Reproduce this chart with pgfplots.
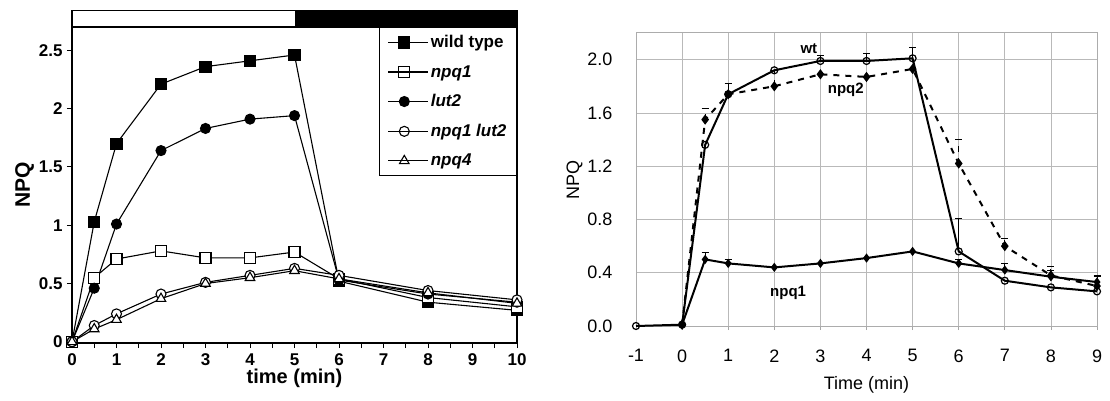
\documentclass[border=0pt]{standalone}
\usepackage{fontspec}
\setmainfont{Liberation Sans}
\usepackage{pgfplots}
\pgfplotsset{compat=1.18}

\begin{document}
\begin{tikzpicture}
% left panel: NPQ of the mutants
\begin{axis}[
  at={(72pt,-343pt)}, anchor=south west,
  scale only axis, width=445pt, height=316pt,
  xmin=0, xmax=10, ymin=-0.01, ymax=2.70,
  xtick={0,1,2,3,4,5,6,7,8,9,10},
  minor xtick={0.5,1.5,2.5,3.5,4.5,5.5,6.5,7.5,8.5,9.5},
  ytick={0,0.5,1,1.5,2,2.5},
  tick align=outside, tick pos=left,
  major tick length=5pt, minor tick length=5pt,
  axis line style={line width=1.2pt},
  every tick/.style={black, line width=1pt},
  /pgf/number format/assume math mode=true,
  tick label style={font=\fontsize{17}{20}\selectfont\bfseries},
  xticklabel style={yshift=-2pt},
  yticklabel style={xshift=-1pt},
  xlabel={time (min)}, ylabel={NPQ},
  label style={font=\fontsize{20}{23}\selectfont\bfseries},
  xlabel style={yshift=3pt},
  ylabel style={font=\fontsize{21}{24}\selectfont\bfseries, yshift=-2pt},
  clip=false,
  legend style={at={(1,1)}, anchor=north east, draw=black, line width=1.2pt,
    font=\fontsize{17}{20}\selectfont\bfseries, row sep=12pt,
    inner xsep=8pt, inner ysep=6pt, cells={anchor=west}},
  legend image code/.code={\draw[mark repeat=2,mark phase=2,#1]
    plot coordinates {(0pt,0pt) (16pt,0pt) (32pt,0pt)};
    \path (0pt,0pt) -- (40pt,0pt);},
  every axis plot/.append style={black, line width=1.1pt},
]
\fill[black] (axis cs:5,2.70) rectangle (axis cs:10,2.84);
\draw[line width=1.2pt] (axis cs:0,2.70) rectangle (axis cs:10,2.84);

\addplot[mark=square*, mark size=5.5pt, mark options={solid}] coordinates {
  (0,0) (0.5,1.03) (1,1.70) (2,2.21) (3,2.36) (4,2.41) (5,2.46) (6,0.52) (8,0.34) (10,0.27)};
\addlegendentry{wild type}
\addplot[mark=square*, mark size=5.5pt, mark options={fill=white}] coordinates {
  (0,0) (0.5,0.55) (1,0.71) (2,0.78) (3,0.72) (4,0.72) (5,0.77) (6,0.54) (8,0.38) (10,0.30)};
\addlegendentry{\itshape npq1}
\addplot[mark=*, mark size=5pt] coordinates {
  (0,0) (0.5,0.46) (1,1.01) (2,1.64) (3,1.83) (4,1.91) (5,1.94) (6,0.53) (8,0.41) (10,0.34)};
\addlegendentry{\itshape lut2}
\addplot[mark=*, mark size=5pt, mark options={fill=white}] coordinates {
  (0,0) (0.5,0.14) (1,0.24) (2,0.41) (3,0.51) (4,0.57) (5,0.63) (6,0.57) (8,0.44) (10,0.36)};
\addlegendentry{\itshape npq1 lut2}
\addplot[mark=triangle*, mark size=5.5pt, mark options={fill=white}] coordinates {
  (0,0) (0.5,0.11) (1,0.19) (2,0.37) (3,0.50) (4,0.55) (5,0.61) (6,0.54) (8,0.42) (10,0.33)};
\addlegendentry{\itshape npq4}
\end{axis}

% right panel: wt, npq2, npq1 with error bars
\begin{axis}[
  at={(636pt,-326pt)}, anchor=south west,
  scale only axis, width=461pt, height=293pt,
  xmin=-1, xmax=9, ymin=0, ymax=2.2,
  xtick={-1,0,1,2,3,4,5,6,7,8,9},
  ytick={0,0.4,0.8,1.2,1.6,2.0},
  grid=major, major grid style={gray!55, line width=0.8pt},
  axis line style={gray!65, line width=1pt},
  tick align=outside, xtick pos=bottom, ytick pos=left,
  major tick length=4pt,
  ytick style={draw=none},
  xtick style={gray!70, line width=0.8pt},
  /pgf/number format/assume math mode=true,
  tick label style={font=\fontsize{18}{21}\selectfont},
  xticklabel style={yshift=-16pt},
  yticklabel style={xshift=-16pt, /pgf/number format/fixed,
    /pgf/number format/fixed zerofill, /pgf/number format/precision=1},
  xlabel={Time (min)}, ylabel={NPQ},
  label style={font=\fontsize{18}{21}\selectfont},
  xlabel style={yshift=-7pt},
  ylabel style={yshift=-2pt},
  clip=false,
  every axis plot/.append style={black},
  error bars/error bar style={line width=0.9pt, black},
  error bars/error mark options={line width=0.9pt, black, mark size=3.5pt, rotate=90},
]
\addplot[line width=2pt, mark=o, mark size=3.5pt, mark options={fill=white, line width=1.2pt},
  error bars/.cd, y dir=plus, y explicit] coordinates {
  (-1,0) (0,0.01) (0.5,1.36) (1,1.74) +- (0,0.08) (2,1.92) (3,1.99) +- (0,0.04)
  (4,1.99) +- (0,0.06) (5,2.01) +- (0,0.08) (6,0.56) +- (0,0.25) (7,0.34) (8,0.29) (9,0.26)};
\addplot[line width=2pt, dashed, dash pattern=on 6pt off 6pt, mark=diamond*, mark size=3.5pt,
  mark options={solid},
  error bars/.cd, y dir=plus, y explicit] coordinates {
  (0,0.01) (0.5,1.55) +- (0,0.08) (1,1.74) (2,1.80) +- (0,0.12) (3,1.89) (4,1.87)
  (5,1.93) (6,1.22) +- (0,0.18) (7,0.60) +- (0,0.06) (8,0.38) +- (0,0.07) (9,0.30) +- (0,0.07)};
\addplot[line width=2pt, mark=diamond*, mark size=3pt, mark options={solid},
  error bars/.cd, y dir=plus, y explicit] coordinates {
  (0,0.01) (0.5,0.50) +- (0,0.05) (1,0.47) +- (0,0.03) (2,0.44) (3,0.47) (4,0.51)
  (5,0.56) (6,0.47) +- (0,0.03) (7,0.42) +- (0,0.05) (8,0.37) +- (0,0.05) (9,0.33) +- (0,0.05)};
\node[font=\fontsize{15}{17}\selectfont\bfseries] at (axis cs:2.75,2.08) {wt};
\node[font=\fontsize{15}{17}\selectfont\bfseries] at (axis cs:3.55,1.77) {npq2};
\node[font=\fontsize{15}{17}\selectfont\bfseries] at (axis cs:2.3,0.25) {npq1};
\end{axis}
\pgfresetboundingbox
\path[use as bounding box] (0pt,0pt) rectangle (1110pt,-401pt);
\end{tikzpicture}
\end{document}
